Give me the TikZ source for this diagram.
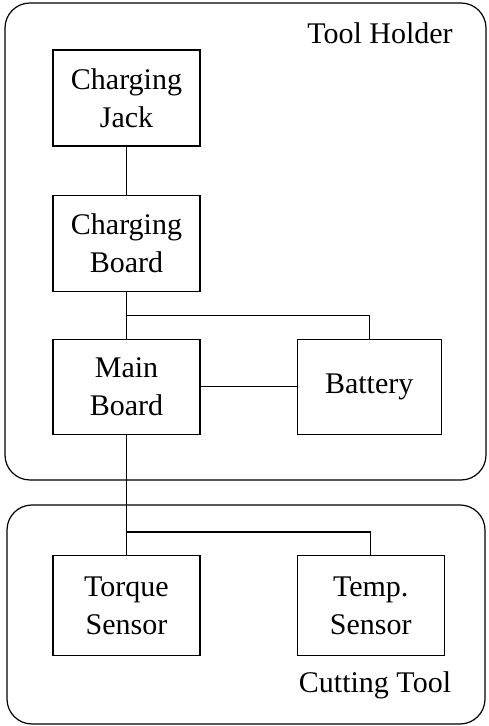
\documentclass[tikz,border=0pt]{standalone}
\usepackage{fontspec}
\setmainfont{Liberation Serif}
\usetikzlibrary{positioning,calc}

\begin{document}
\begin{tikzpicture}[x=1pt,y=1pt,node distance=48pt,line width=1.2pt,
                    block/.style={rectangle,draw,minimum width=147pt,minimum height=96pt,
                      inner sep=0pt,align=center,font=\fontsize{30}{38}\selectfont},
                    frame/.style={draw,rounded corners=25pt},
                    tag/.style={font=\fontsize{30}{38}\selectfont,inner sep=0pt}]
  \useasboundingbox (0,0) rectangle (489,726);

  % the two housings
  \draw[frame] (5,246) rectangle (486,723);
  \draw[frame] (7,2) rectangle (485,221);
  \node[tag] (holder) at (380,693) {Tool Holder};
  \node[tag] (cutting) at (375,41) {Cutting Tool};

  \node[block] (jack) at (126.5,628) {Charging\\Jack};
    \node[block] (charger) [below=of jack] {Charging\\Board};
  \node[block,minimum height=95pt] (main) [below=47pt of charger] {Main\\Board};
    \node[block,minimum width=144pt,minimum height=95pt] (battery) [right=96pt of main] {Battery};
  \node[block,minimum height=100pt] (torque) [below=120pt of main] {Torque\\Sensor};
    \node[block,minimum height=100pt] (temp) [right=96pt of torque] {Temp.\\Sensor};

  \coordinate (split1) at ($(charger.south)!0.5!(main.north)$);
  \coordinate[above=23pt of torque.north] (split2);

  \draw (jack) -- (charger);
  \draw (charger) -- (main);
  \draw (split1) -| (battery.north);
  \draw (main) -- (battery);
  \draw (main) -- (torque);
  \draw (split2) -| (temp.north);
\end{tikzpicture}
\end{document}
